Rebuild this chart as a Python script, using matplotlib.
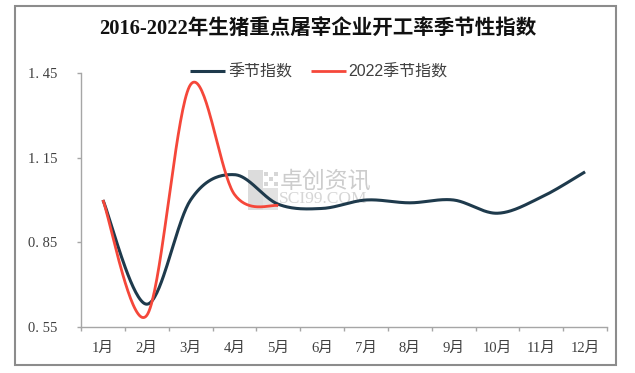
import numpy as np
import matplotlib
matplotlib.use('Agg')
import matplotlib.pyplot as plt
from matplotlib.patches import Rectangle

plt.rcParams['font.family'] = ['Liberation Serif', 'Noto Sans CJK SC', 'DejaVu Sans']

# 数据
months = ['1月', '2月', '3月', '4月', '5月', '6月', '7月', '8月', '9月', '10月', '11月', '12月']
seasonal_idx = [1.00, 0.63, 1.00, 1.09, 0.985, 0.97, 1.00, 0.99, 1.00, 0.953, 1.01, 1.10]
idx_2022 = [1.00, 0.59, 1.41, 1.02, 0.98]
yticks = [0.55, 0.85, 1.15, 1.45]
ytick_labels = ['0. 55', '0. 85', '1. 15', '1. 45']


def smooth(ax, xs, ys, n=40):
    # 类似 Excel 平滑线：在屏幕坐标里做 Catmull-Rom 贝塞尔
    pts = ax.transData.transform(np.column_stack([xs, ys]))
    p = np.vstack([pts[0], pts, pts[-1]])
    t = np.linspace(0, 1, n)[:, None]
    out = []
    for i in range(1, len(p) - 2):
        p0, p1, p2, p3 = p[i - 1], p[i], p[i + 1], p[i + 2]
        c1 = p1 + (p2 - p0) / 6
        c2 = p2 - (p3 - p1) / 6
        seg = (1 - t) ** 3 * p1 + 3 * (1 - t) ** 2 * t * c1 + 3 * (1 - t) * t ** 2 * c2 + t ** 3 * p2
        out.append(seg if i == 1 else seg[1:])
    res = ax.transData.inverted().transform(np.vstack(out))
    return res[:, 0], res[:, 1]


W, H = 635, 373
fig = plt.figure(figsize=(6.35, 3.73), dpi=100)
ax = fig.add_axes([81 / W, 1 - 326.7 / H, 526 / W, 253.4 / H])

ax.set_xlim(0.5, 12.5)
ax.set_ylim(0.55, 1.45)

x_all = np.arange(1, len(months) + 1)
sx, sy = smooth(ax, x_all, seasonal_idx)
ax.plot(sx, sy, color='#1e3a4c', lw=2.2, label='季节指数', solid_capstyle='butt', zorder=3)
rx, ry = smooth(ax, x_all[:len(idx_2022)], idx_2022)
ax.plot(rx, ry, color='#f5473a', lw=2.0, label='2022季节指数', solid_capstyle='butt', zorder=4)

# 坐标轴样式
for s in ['top', 'right']:
    ax.spines[s].set_visible(False)
for s in ['left', 'bottom']:
    ax.spines[s].set_color('#a6a6a6')
    ax.spines[s].set_linewidth(1.0)

ax.set_yticks(yticks)
ax.set_yticklabels(ytick_labels)
ax.set_xticks(np.arange(0.5, 13, 1))
ax.set_xticklabels([])
ax.set_xticks(x_all, minor=True)
ax.set_xticklabels(months, minor=True)
ax.tick_params(axis='y', length=3, width=1, color='#a6a6a6', pad=14, labelsize=10.5, labelcolor='#404040')
ax.tick_params(axis='x', which='major', length=3, width=1, color='#a6a6a6', direction='out')
ax.tick_params(axis='x', which='minor', length=0, pad=11, labelsize=10.5, labelcolor='#404040')

# 标题
fig.text(0.5, 1 - 29 / H, '2016-2022年生猪重点屠宰企业开工率季节性指数',
         ha='center', va='center', fontsize=14.8, fontweight='bold', color='#111111')

# 图例
leg = fig.legend(loc='center', bbox_to_anchor=(319 / W, 1 - 72 / H), ncol=2, frameon=False,
                 handlelength=2.2, handletextpad=0.15, columnspacing=1.2,
                 prop={'family': ['Liberation Sans', 'Noto Sans CJK SC'], 'size': 11.5})
for t in leg.get_texts():
    t.set_color('#404040')

# 水印（放在曲线下面）
ftr = fig.transFigure
ax.add_patch(Rectangle((248 / W, 1 - 210 / H), 15 / W, 40 / H, transform=ftr,
                       facecolor='#dcdcdc', edgecolor='none', zorder=1, clip_on=False))
ax.add_patch(Rectangle((263 / W, 1 - 210 / H), 15 / W, 22 / H, transform=ftr,
                       facecolor='#e2e2e2', edgecolor='none', zorder=1, clip_on=False))
for i in range(3):
    for j in range(3):
        if (i + j) % 2 == 0:
            ax.add_patch(Rectangle(((264 + 5 * i) / W, 1 - (186 - 5 * j) / H), 4 / W, 4 / H,
                                   transform=ftr, facecolor='#d6d6d6', edgecolor='none',
                                   zorder=1, clip_on=False))
ax.text(280 / W, 1 - 181 / H, '卓创资讯', fontsize=16.5, color='#cccccc',
        family=['Noto Sans CJK SC'], va='center', ha='left', transform=ftr, zorder=1)
ax.text(279 / W, 1 - 199 / H, 'SCI99.COM', fontsize=12.5, color='#d6d6d6',
        va='center', ha='left', transform=ftr, zorder=1)

# 外框
fig.patches.append(Rectangle((15 / W, 1 - 365 / H), 601 / W, 359 / H,
                             transform=ftr, facecolor='none', edgecolor='#8c8c8c', lw=1.5))

fig.savefig('out.png', dpi=100)
